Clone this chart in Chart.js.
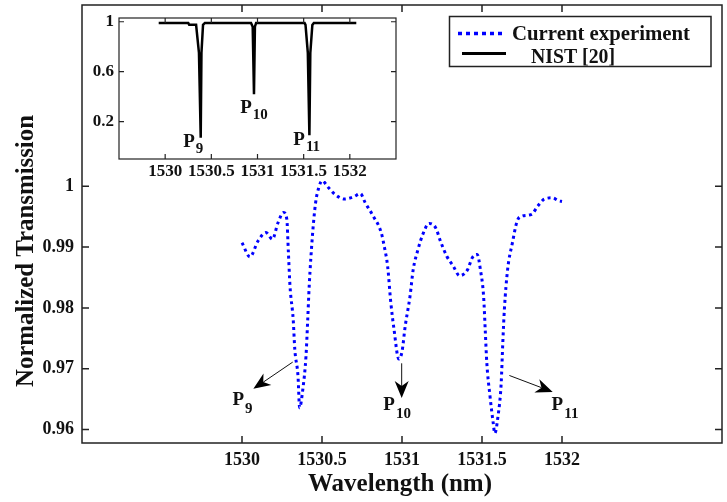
<!DOCTYPE html>
<html>
<head>
<meta charset="utf-8">
<script src="https://cdn.jsdelivr.net/npm/chart.js@4.4.0/dist/chart.umd.min.js"></script>
<style>
body { margin: 0; background: #fff; }
#wrap { position: relative; width: 727px; height: 502px; background: #fff; }
#main { position: absolute; left: 0; top: 0; }
#inset { position: absolute; left: 84px; top: 13px; background: #fff; }
</style>
</head>
<body>
<div id="wrap">
  <canvas id="main" width="727" height="502"></canvas>
  <canvas id="inset" width="318" height="168"></canvas>
</div>
<script>
// current experiment (main plot)
var wavelength = [1530.00, 1530.05, 1530.10, 1530.15, 1530.19, 1530.225, 1530.26, 1530.28, 1530.29, 1530.30,
  1530.32, 1530.33, 1530.35, 1530.36, 1530.38, 1530.40, 1530.41, 1530.42, 1530.44, 1530.46,
  1530.48, 1530.50, 1530.54, 1530.58, 1530.64, 1530.70, 1530.74, 1530.77, 1530.82, 1530.87,
  1530.89, 1530.91, 1530.93, 1530.95, 1530.98, 1531.00, 1531.02, 1531.05, 1531.07, 1531.10,
  1531.13, 1531.17, 1531.21, 1531.24, 1531.28, 1531.32, 1531.36, 1531.41, 1531.44, 1531.47,
  1531.49, 1531.51, 1531.52, 1531.53, 1531.55, 1531.57, 1531.58, 1531.60, 1531.62, 1531.63,
  1531.64, 1531.66, 1531.69, 1531.72, 1531.75, 1531.81, 1531.85, 1531.89, 1531.94, 1531.98, 1532.00];
var transmission = [0.9907, 0.9884, 0.9910, 0.9924, 0.9913, 0.9940, 0.9957, 0.9946, 0.9891, 0.9836,
  0.9781, 0.9732, 0.9688, 0.9636, 0.9666, 0.9721, 0.9776, 0.9836, 0.9918, 0.9973,
  0.9998, 1.0009, 0.9998, 0.9987, 0.9979, 0.9983, 0.9988, 0.9973, 0.9951, 0.9924,
  0.9900, 0.9869, 0.9809, 0.9765, 0.9716, 0.9728, 0.9770, 0.9819, 0.9863, 0.9896,
  0.9921, 0.9939, 0.9932, 0.9910, 0.9885, 0.9869, 0.9853, 0.9863, 0.9883, 0.9888,
  0.9863, 0.9819, 0.9765, 0.9710, 0.9655, 0.9611, 0.9594, 0.9622, 0.9677, 0.9743,
  0.9798, 0.9863, 0.9907, 0.9943, 0.9951, 0.9954, 0.9968, 0.9979, 0.9981, 0.9976, 0.9975];

// NIST [20] reference (inset)
var nistWavelength = [1529.93, 1530.25, 1530.26, 1530.335, 1530.366, 1530.385, 1530.393, 1530.41, 1530.43,
  1530.93, 1530.948, 1530.962, 1530.972, 1530.985,
  1531.51, 1531.52, 1531.545, 1531.562, 1531.572, 1531.594, 1531.61, 1532.07];
var nistTransmission = [0.99, 0.99, 0.975, 0.975, 0.75, 0.07, 0.75, 0.975, 0.99,
  0.99, 0.96, 0.42, 0.96, 0.99,
  0.99, 0.975, 0.75, 0.09, 0.75, 0.975, 0.99, 0.99];

var xTicks = [1530, 1530.5, 1531, 1531.5, 1532];
var yTicks = [0.96, 0.97, 0.98, 0.99, 1];
var insetYTicks = [0.2, 0.6, 1];

var seriesNames = ['Current experiment', 'NIST [20]'];
var peakSubs = ['9', '10', '11'];
// arrows in main plot: [fromX, fromY, toX, toY] in data units
var peakArrows = [[1530.317, 0.9711, 1530.071, 0.9667],
                  [1530.998, 0.9709, 1530.998, 0.9652],
                  [1531.671, 0.9689, 1531.942, 0.9662]];
// label anchors (left / baseline) in data units
var peakLabelX = [1529.94, 1530.883, 1531.935];
var peakLabelY = [0.9640, 0.9632, 0.9632];
var insetLabelX = [1530.195, 1530.813, 1531.388];
var insetLabelY = [0.0, 0.272, 0.014];

var serif = "'Liberation Serif', 'Times New Roman', serif";
var ink = '#111';

function pts(xs, ys) {
  return xs.map(function (x, i) { return { x: x, y: ys[i] }; });
}

// chart.js pads vertical axes by half a label; the frame here is fixed by hand
function noPad(s) {
  s.paddingTop = 0; s.paddingBottom = 0; s.paddingLeft = 0; s.paddingRight = 0;
}

function frameAndTicks(chart, len, lw) {
  var ctx = chart.ctx, a = chart.chartArea, xs = chart.scales.x, ys = chart.scales.y;
  ctx.save();
  ctx.strokeStyle = '#222';
  ctx.lineWidth = lw;
  ctx.strokeRect(a.left, a.top, a.right - a.left, a.bottom - a.top);
  ctx.beginPath();
  xs.ticks.forEach(function (t) {
    var p = xs.getPixelForValue(t.value);
    ctx.moveTo(p, a.bottom); ctx.lineTo(p, a.bottom - len);
    ctx.moveTo(p, a.top); ctx.lineTo(p, a.top + len);
  });
  ys.ticks.forEach(function (t) {
    var p = ys.getPixelForValue(t.value);
    ctx.moveTo(a.left, p); ctx.lineTo(a.left + len, p);
    ctx.moveTo(a.right, p); ctx.lineTo(a.right - len, p);
  });
  ctx.stroke();
  ctx.restore();
}

function peakLabel(ctx, x, y, sub, size, subSize, drop) {
  ctx.font = 'bold ' + size + 'px ' + serif;
  ctx.fillStyle = ink;
  ctx.textAlign = 'left';
  ctx.textBaseline = 'alphabetic';
  ctx.fillText('P', x, y);
  var w = ctx.measureText('P').width;
  ctx.font = 'bold ' + subSize + 'px ' + serif;
  ctx.fillText(sub, x + w + 1, y + drop);
}

function arrow(ctx, x0, y0, x1, y1) {
  var dx = x1 - x0, dy = y1 - y0, L = Math.sqrt(dx * dx + dy * dy);
  var ux = dx / L, uy = dy / L, nx = -uy, ny = ux;
  var head = 17, half = 7, notch = 12;
  ctx.save();
  ctx.strokeStyle = '#111';
  ctx.fillStyle = '#000';
  ctx.lineWidth = 1;
  ctx.beginPath();
  ctx.moveTo(x0, y0);
  ctx.lineTo(x1 - ux * notch, y1 - uy * notch);
  ctx.stroke();
  ctx.beginPath();
  ctx.moveTo(x1, y1);
  ctx.lineTo(x1 - ux * head + nx * half, y1 - uy * head + ny * half);
  ctx.lineTo(x1 - ux * notch, y1 - uy * notch);
  ctx.lineTo(x1 - ux * head - nx * half, y1 - uy * head - ny * half);
  ctx.closePath();
  ctx.fill();
  ctx.restore();
}

var mainDecor = {
  id: 'mainDecor',
  afterDraw: function (chart) {
    var ctx = chart.ctx, a = chart.chartArea, xs = chart.scales.x, ys = chart.scales.y;
    frameAndTicks(chart, 7, 1.5);

    // peak arrows + labels
    peakArrows.forEach(function (p, i) {
      arrow(ctx, xs.getPixelForValue(p[0]), ys.getPixelForValue(p[1]),
        xs.getPixelForValue(p[2]), ys.getPixelForValue(p[3]));
      peakLabel(ctx, xs.getPixelForValue(peakLabelX[i]), ys.getPixelForValue(peakLabelY[i]),
        peakSubs[i], 19, 15, 8);
    });

    // axis titles
    ctx.save();
    ctx.fillStyle = ink;
    ctx.font = 'bold 25px ' + serif;
    ctx.textAlign = 'center';
    ctx.textBaseline = 'alphabetic';
    ctx.fillText('Wavelength (nm)', (a.left + a.right) / 2 - 2, 491);
    ctx.translate(33, 251);
    ctx.rotate(-Math.PI / 2);
    ctx.font = 'bold 26px ' + serif;
    ctx.fillText('Normalized Transmission', 0, 0, 272);
    ctx.restore();

    // legend
    ctx.save();
    ctx.fillStyle = '#fff';
    ctx.fillRect(449.5, 16.5, 261.5, 50);
    ctx.strokeStyle = '#222';
    ctx.lineWidth = 1.5;
    ctx.strokeRect(449.5, 16.5, 261.5, 50);
    ctx.strokeStyle = '#0000ff';
    ctx.lineWidth = 3.5;
    ctx.setLineDash([4, 4]);
    ctx.beginPath(); ctx.moveTo(458, 33.5); ctx.lineTo(506, 33.5); ctx.stroke();
    ctx.setLineDash([]);
    ctx.strokeStyle = '#000';
    ctx.lineWidth = 3;
    ctx.beginPath(); ctx.moveTo(462, 53.5); ctx.lineTo(506, 53.5); ctx.stroke();
    ctx.fillStyle = ink;
    ctx.font = 'bold 22px ' + serif;
    ctx.textAlign = 'left';
    ctx.fillText(seriesNames[0], 512, 40, 178);
    ctx.fillText(seriesNames[1], 531, 63, 84);
    ctx.restore();
  }
};

var insetDecor = {
  id: 'insetDecor',
  afterDraw: function (chart) {
    var ctx = chart.ctx, xs = chart.scales.x, ys = chart.scales.y;
    frameAndTicks(chart, 5, 1.2);
    peakSubs.forEach(function (s, i) {
      peakLabel(ctx, xs.getPixelForValue(insetLabelX[i]), ys.getPixelForValue(insetLabelY[i]),
        s, 19, 15, 6);
    });
  }
};

function tickFont(size) {
  return { family: serif, weight: 'bold', size: size };
}

new Chart(document.getElementById('main'), {
  type: 'line',
  data: {
    datasets: [{
      label: seriesNames[0],
      data: pts(wavelength, transmission),
      borderColor: '#0000ff',
      borderWidth: 3,
      borderDash: [3, 3.5],
      borderCapStyle: 'butt',
      pointRadius: 0,
      fill: false,
      cubicInterpolationMode: 'monotone'
    }]
  },
  options: {
    responsive: false,
    animation: false,
    devicePixelRatio: 1,
    layout: { padding: { left: 0, right: 5, top: 5, bottom: 0 } },
    plugins: { legend: { display: false }, tooltip: { enabled: false } },
    scales: {
      x: {
        type: 'linear', min: 1529, max: 1533,
        afterBuildTicks: function (s) { s.ticks = xTicks.map(function (v) { return { value: v }; }); },
        afterFit: function (s) { s.height = 59; noPad(s); },
        grid: { display: false, drawTicks: false },
        border: { display: false },
        ticks: { color: ink, font: tickFont(18), padding: 7, maxRotation: 0, autoSkip: false,
          callback: function (v) { return String(v); } }
      },
      y: {
        type: 'linear', min: 0.9578, max: 1.0298,
        afterBuildTicks: function (s) { s.ticks = yTicks.map(function (v) { return { value: v }; }); },
        afterFit: function (s) { s.width = 82; noPad(s); },
        grid: { display: false, drawTicks: false },
        border: { display: false },
        ticks: { color: ink, font: tickFont(18), padding: 8, autoSkip: false,
          callback: function (v) { return String(v); } }
      }
    }
  },
  plugins: [mainDecor]
});

new Chart(document.getElementById('inset'), {
  type: 'line',
  data: {
    datasets: [{
      label: seriesNames[1],
      data: pts(nistWavelength, nistTransmission),
      borderColor: '#000',
      borderWidth: 2.5,
      pointRadius: 0,
      fill: false,
      tension: 0
    }]
  },
  options: {
    responsive: false,
    animation: false,
    devicePixelRatio: 1,
    layout: { padding: { left: 0, right: 6, top: 5, bottom: 0 } },
    plugins: { legend: { display: false }, tooltip: { enabled: false } },
    scales: {
      x: {
        type: 'linear', min: 1529.5, max: 1532.5,
        afterBuildTicks: function (s) { s.ticks = xTicks.map(function (v) { return { value: v }; }); },
        afterFit: function (s) { s.height = 22; noPad(s); },
        grid: { display: false, drawTicks: false },
        border: { display: false },
        ticks: { color: ink, font: tickFont(17), padding: 2, maxRotation: 0, autoSkip: false,
          callback: function (v) { return String(v); } }
      },
      y: {
        type: 'linear', min: -0.1, max: 1.03,
        afterBuildTicks: function (s) { s.ticks = insetYTicks.map(function (v) { return { value: v }; }); },
        afterFit: function (s) { s.width = 35; noPad(s); },
        grid: { display: false, drawTicks: false },
        border: { display: false },
        ticks: { color: ink, font: tickFont(17), padding: 5, autoSkip: false,
          callback: function (v) { return String(v); } }
      }
    }
  },
  plugins: [insetDecor]
});
</script>
</body>
</html>
